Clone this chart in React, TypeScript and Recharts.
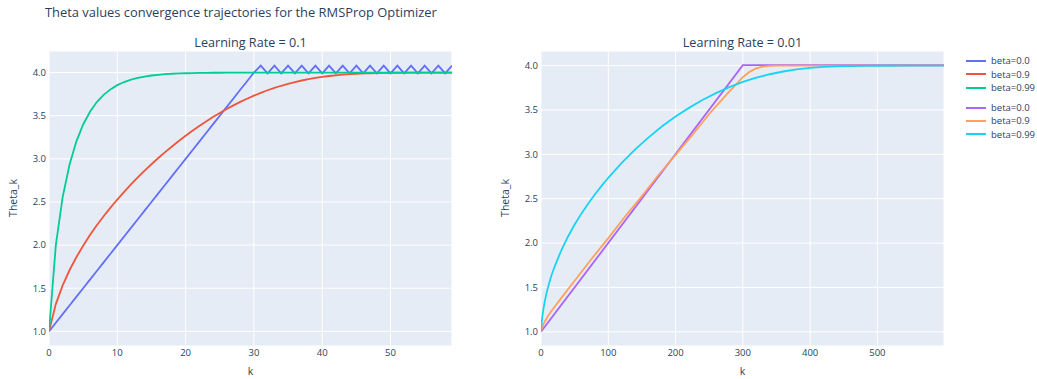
import { CartesianGrid, Line, LineChart, XAxis, YAxis } from "recharts";

const FONT = "'Open Sans', 'Noto Sans', sans-serif";
const INK = "#2a3f5f";

// learning rate 0.1, k = 0..59
const K_LR1 = [
  0, 1, 2, 3, 4, 5, 6, 7, 8, 9, 10, 11, 12, 13, 14, 15, 16, 17, 18, 19,
  20, 21, 22, 23, 24, 25, 26, 27, 28, 29, 30, 31, 32, 33, 34, 35, 36, 37, 38, 39,
  40, 41, 42, 43, 44, 45, 46, 47, 48, 49, 50, 51, 52, 53, 54, 55, 56, 57, 58, 59,
];
const LR1_B0 = [
  1.0, 1.1, 1.2, 1.3, 1.4, 1.5, 1.6, 1.7, 1.8, 1.9, 2.0, 2.1, 2.2, 2.3, 2.4, 2.5, 2.6, 2.7, 2.8, 2.9,
  3.0, 3.1, 3.2, 3.3, 3.4, 3.5, 3.6, 3.7, 3.8, 3.9, 4.0, 4.08, 3.99, 4.08, 3.99, 4.08, 3.99, 4.08, 3.99, 4.08,
  3.99, 4.08, 3.99, 4.08, 3.99, 4.08, 3.99, 4.08, 3.99, 4.08, 3.99, 4.08, 3.99, 4.08, 3.99, 4.08, 3.99, 4.08, 3.99, 4.08,
];
const LR1_B9 = [
  1.0, 1.316, 1.533, 1.708, 1.859, 1.993, 2.116, 2.229, 2.335, 2.434,
  2.528, 2.617, 2.703, 2.784, 2.862, 2.937, 3.009, 3.077, 3.143, 3.207,
  3.267, 3.325, 3.381, 3.434, 3.484, 3.532, 3.577, 3.62, 3.66, 3.697,
  3.732, 3.765, 3.795, 3.822, 3.847, 3.87, 3.89, 3.908, 3.924, 3.938,
  3.95, 3.96, 3.968, 3.975, 3.981, 3.986, 3.99, 3.992, 3.995, 3.996,
  3.998, 3.998, 3.999, 3.999, 4.0, 4.0, 4.0, 4.0, 4.0, 4.0,
];
const LR1_B99 = [
  1.0, 2.0, 2.557, 2.931, 3.2, 3.398, 3.546, 3.658, 3.742, 3.805,
  3.854, 3.89, 3.918, 3.938, 3.954, 3.966, 3.974, 3.981, 3.986, 3.99,
  3.992, 3.994, 3.996, 3.997, 3.998, 3.998, 3.999, 3.999, 3.999, 4.0,
  4.0, 4.0, 4.0, 4.0, 4.0, 4.0, 4.0, 4.0, 4.0, 4.0,
  4.0, 4.0, 4.0, 4.0, 4.0, 4.0, 4.0, 4.0, 4.0, 4.0,
  4.0, 4.0, 4.0, 4.0, 4.0, 4.0, 4.0, 4.0, 4.0, 4.0,
];

// learning rate 0.01, sampled k
const K_LR01_B0 = [0, 300, 599];
const LR01_B0 = [1.0, 4.005, 4.005];
const K_LR01_B9 = [0, 1, 2, 3, 4, 5, 6, 8, 10, 15, 20, 30, 50, 75, 100, 125, 150, 175, 200, 225, 250, 260, 270, 280, 290, 300, 310, 320, 330, 340, 350, 400, 500, 599];
const LR01_B9 = [1.0, 1.032, 1.054, 1.074, 1.091, 1.106, 1.121, 1.147, 1.172, 1.23, 1.279, 1.38, 1.576, 1.82, 2.056, 2.3, 2.53, 2.77, 2.995, 3.22, 3.455, 3.54, 3.625, 3.71, 3.79, 3.87, 3.93, 3.97, 3.99, 3.998, 4.0, 4.0, 4.0, 4.0];
const K_LR01_B99 = [0, 1, 2, 3, 4, 5, 6, 7, 8, 9, 10, 15, 20, 30, 40, 50, 60, 70, 80, 90, 100, 120, 140, 160, 180, 200, 220, 240, 260, 280, 300, 320, 340, 360, 380, 400, 420, 440, 460, 480, 500, 550, 599];
const LR01_B99 = [1.0, 1.1, 1.17, 1.226, 1.275, 1.318, 1.357, 1.394, 1.428, 1.459, 1.489, 1.624, 1.73, 1.916, 2.072, 2.209, 2.332, 2.444, 2.548, 2.645, 2.736, 2.904, 3.056, 3.192, 3.316, 3.426, 3.524, 3.612, 3.69, 3.758, 3.816, 3.864, 3.903, 3.934, 3.958, 3.975, 3.986, 3.993, 3.996, 3.998, 3.999, 4.0, 4.0];

const Y_TICKS = [1.0, 1.5, 2.0, 2.5, 3.0, 3.5, 4.0];
const X_TICKS_LR1 = [0, 10, 20, 30, 40, 50];
const X_TICKS_LR01 = [0, 100, 200, 300, 400, 500];

const LEGEND = [
  { name: "beta=0.0", color: "#636efa" },
  { name: "beta=0.9", color: "#EF553B" },
  { name: "beta=0.99", color: "#00cc96" },
  { name: "beta=0.0", color: "#ab63fa" },
  { name: "beta=0.9", color: "#FFA15A" },
  { name: "beta=0.99", color: "#19d3f3" },
];

const leftRows = K_LR1.map((k, i) => ({ k, a: LR1_B0[i], b: LR1_B9[i], c: LR1_B99[i] }));

function buildRight() {
  const m = new Map<number, any>();
  const put = (ks: number[], vs: number[], key: string) =>
    ks.forEach((k, i) => {
      const r = m.get(k) ?? { k };
      r[key] = vs[i];
      m.set(k, r);
    });
  put(K_LR01_B0, LR01_B0, "a");
  put(K_LR01_B9, LR01_B9, "b");
  put(K_LR01_B99, LR01_B99, "c");
  return [...m.values()].sort((p, q) => p.k - q.k);
}
const rightRows = buildRight();

const tick = { fill: INK, fontSize: 9.5, fontFamily: FONT };

function Panel({ rows, xTicks, xMax, yDomain, colors }: any) {
  return (
    <LineChart width={470} height={379} data={rows} margin={{ top: 51, right: 18, bottom: 0, left: 0 }}>
      <CartesianGrid fill="#E5ECF6" stroke="#ffffff" strokeWidth={1} />
      <XAxis
        dataKey="k"
        type="number"
        domain={[0, xMax]}
        ticks={xTicks}
        height={33}
        axisLine={false}
        tickLine={false}
        tickSize={0}
        tickMargin={3}
        tick={tick}
        allowDataOverflow
      />
      <YAxis
        type="number"
        domain={yDomain}
        ticks={Y_TICKS}
        width={49}
        axisLine={false}
        tickLine={false}
        tickSize={0}
        tickMargin={3}
        tick={tick}
        tickFormatter={(v) => v.toFixed(1)}
        allowDataOverflow
      />
      {["a", "b", "c"].map((key, i) => (
        <Line
          key={key}
          type="linear"
          dataKey={key}
          stroke={colors[i]}
          strokeWidth={1.8}
          dot={false}
          connectNulls
          isAnimationActive={false}
        />
      ))}
    </LineChart>
  );
}

const abs = (x: number, y: number, extra: any = {}) => ({
  position: "absolute" as const,
  left: x,
  top: y,
  transform: "translate(-50%, -50%)",
  whiteSpace: "nowrap" as const,
  color: INK,
  fontFamily: FONT,
  lineHeight: 1,
  ...extra,
});

export default function App() {
  return (
    <div style={{ position: "absolute", left: 0, top: 0, width: 1037, height: 379, background: "#fff", overflow: "hidden" }}>
      <div style={{ position: "absolute", left: 0, top: 0 }}>
        <Panel rows={leftRows} xTicks={X_TICKS_LR1} xMax={59} yDomain={[0.83, 4.25]} colors={["#636efa", "#EF553B", "#00cc96"]} />
      </div>
      <div style={{ position: "absolute", left: 492, top: 0 }}>
        <Panel rows={rightRows} xTicks={X_TICKS_LR01} xMax={599} yDomain={[0.84, 4.165]} colors={["#ab63fa", "#FFA15A", "#19d3f3"]} />
      </div>

      <div style={{ ...abs(45, 12), transform: "translate(0, -50%)", fontSize: 12.9 }}>
        Theta values convergence trajectories for the RMSProp Optimizer
      </div>
      <div style={abs(250.5, 43, { fontSize: 12.6 })}>Learning Rate = 0.1</div>
      <div style={abs(742.5, 43, { fontSize: 12.6 })}>Learning Rate = 0.01</div>
      <div style={abs(13, 198, { fontSize: 10.5, transform: "translate(-50%, -50%) rotate(-90deg)" })}>Theta_k</div>
      <div style={abs(505, 198, { fontSize: 10.5, transform: "translate(-50%, -50%) rotate(-90deg)" })}>Theta_k</div>
      <div style={abs(250.5, 371, { fontSize: 10.5 })}>k</div>
      <div style={abs(742.5, 371, { fontSize: 10.5 })}>k</div>

      {LEGEND.map((it, i) => {
        const y = i < 3 ? 61 + i * 13.3 : 107.7 + (i - 3) * 13.3;
        return (
          <div key={i} style={{ position: "absolute", left: 966, top: y - 6, height: 12, display: "flex", alignItems: "center" }}>
            <div style={{ width: 20, height: 2, background: it.color }} />
            <span style={{ marginLeft: 5, fontSize: 9.5, color: INK, fontFamily: FONT, lineHeight: 1 }}>{it.name}</span>
          </div>
        );
      })}
    </div>
  );
}
